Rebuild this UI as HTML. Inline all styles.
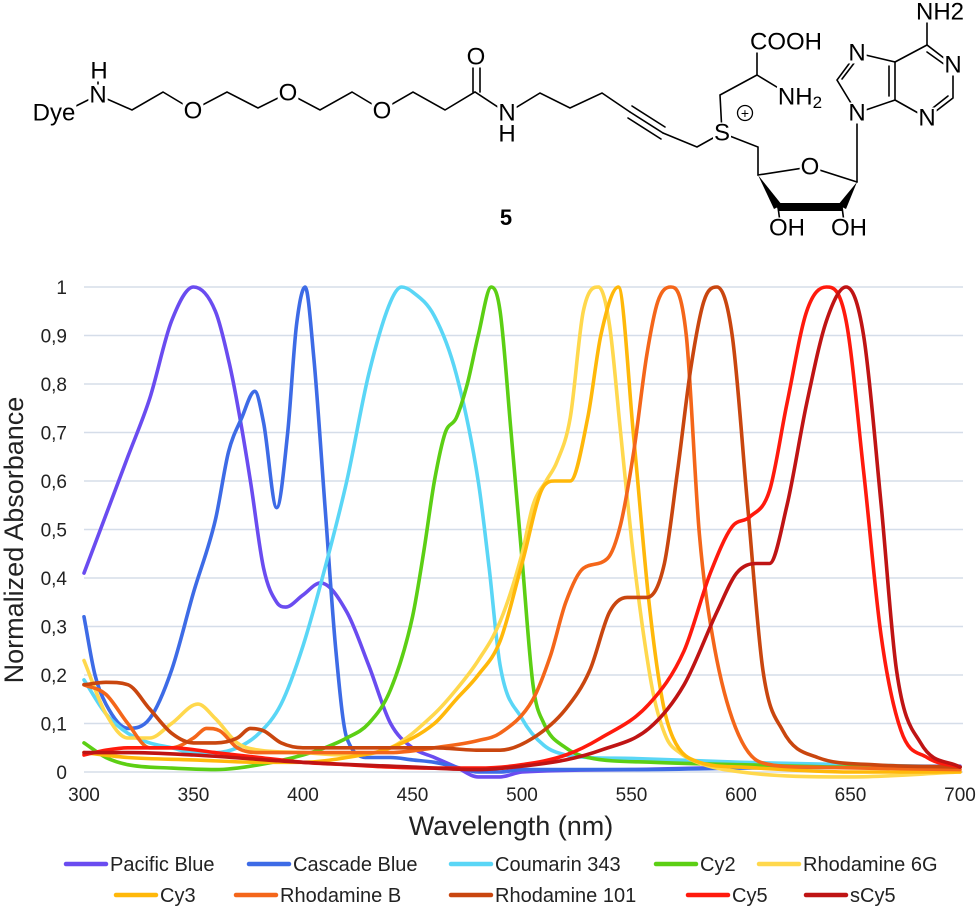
<!DOCTYPE html>
<html><head><meta charset="utf-8"><style>
html,body{margin:0;padding:0;background:#fff;}
svg{display:block;font-family:"Liberation Sans",sans-serif;}
.b{stroke:#000;stroke-width:1.6;fill:none;stroke-linecap:round}
.at{font-size:24px;fill:#000;text-anchor:middle;dominant-baseline:central}
</style></head><body>
<svg id="root" width="980" height="908" viewBox="0 0 980 908">
<g id="structure">
  <polyline class="b" points="76,106 98,95 132,110 163,92 193,110 227,92 258,108 288,93 320,110 352,92 382,110 413,92 445,110 475,92 507,113 540,93 570,108 602,93 630,112"/>
  <line class="b" x1="98" y1="95" x2="98" y2="74"/>
  <line class="b" x1="473" y1="92" x2="473" y2="62"/><line class="b" x1="480" y1="92" x2="480" y2="62"/>
  <line class="b" x1="507" y1="113" x2="507" y2="128"/>
  <line class="b" x1="630" y1="112" x2="663" y2="133"/>
  <line class="b" x1="632" y1="106" x2="665" y2="127"/><line class="b" x1="628" y1="118" x2="661" y2="139"/>
  <polyline class="b" points="663,133 697,147 722,133"/>
  <polyline class="b" points="722,133 720,95 757,75 757,48"/>
  <line class="b" x1="757" y1="75" x2="785" y2="92"/>
  <polyline class="b" points="722,133 758,147 758,175 810,167 857,182"/>
  <polygon points="758,175 774,209 782,205" fill="#000"/>
  <polygon points="776,203 842,203 842,211 778,211" fill="#000"/>
  <polygon points="857,182 838,205 846,209" fill="#000"/>
  <line class="b" x1="778" y1="207" x2="780" y2="222"/><line class="b" x1="842" y1="207" x2="844" y2="222"/>
  <line class="b" x1="857" y1="182" x2="857" y2="113"/>
  <polyline class="b" points="857,113 837,80 857,53 895,62 895,100 857,113"/>
  <line class="b" x1="842" y1="79" x2="858" y2="58"/>
  <line class="b" x1="889" y1="66" x2="889" y2="96"/>
  <polyline class="b" points="895,100 927,118 953,98 953,65 927,45 895,62"/>
  <line class="b" x1="929" y1="111" x2="948" y2="96"/>
  <line class="b" x1="948" y1="67" x2="927" y2="52"/>
  <line class="b" x1="927" y1="45" x2="927" y2="22"/>
  <text class="at" x="54" y="113">Dye</text>
  <text class="at" x="98" y="95">N</text>
  <text class="at" x="99" y="71">H</text>
  <text class="at" x="193" y="111">O</text>
  <text class="at" x="288" y="93">O</text>
  <text class="at" x="382" y="111">O</text>
  <text class="at" x="476" y="57">O</text>
  <text class="at" x="507" y="113">N</text>
  <text class="at" x="507" y="134">H</text>
  <text class="at" x="722" y="133">S</text>
  <circle cx="745" cy="113" r="7.5" fill="#fff" stroke="#000" stroke-width="1.3"/>
  <text x="745" y="118" font-size="14" text-anchor="middle">+</text>
  <text class="at" x="786" y="42">COOH</text>
  <text class="at" x="800" y="97">NH<tspan font-size="17" dy="5">2</tspan></text>
  <text class="at" x="810" y="167">O</text>
  <text class="at" x="787" y="228">OH</text>
  <text class="at" x="849" y="228">OH</text>
  <text class="at" x="857" y="113">N</text>
  <text class="at" x="857" y="53">N</text>
  <text class="at" x="927" y="118">N</text>
  <text class="at" x="953" y="65">N</text>
  <text class="at" x="940" y="12">NH2</text>
  <text x="506" y="225" font-size="22" font-weight="bold" text-anchor="middle">5</text>
</g>
<g id="chart"></g>
</svg>
<script>
const yTicks = [0,0.1,0.2,0.3,0.4,0.5,0.6,0.7,0.8,0.9,1];
const yTickLabels = ["0","0,1","0,2","0,3","0,4","0,5","0,6","0,7","0,8","0,9","1"];
const xTicks = [300,350,400,450,500,550,600,650,700];
const seriesNames = ["Pacific Blue","Cascade Blue","Coumarin 343","Cy2","Rhodamine 6G","Cy3","Rhodamine B","Rhodamine 101","Cy5","sCy5"];
const seriesColors = ["#6a4cf0","#3d6be6","#5ad6f6","#5ccf14","#ffd84d","#ffb80a","#f4661a","#c9460f","#ff1a0d","#bf1414"];
const pbWl = [300,310,320,330,340,350,360,366,370,376,382,388,392,400,408,420,430,440,450,460,470,480,490,500,550,600,650,700];
const pbAbs = [.41,.53,.65,.77,.93,1.0,.95,.85,.76,.6,.42,.35,.34,.365,.39,.33,.22,.1,.05,.03,.01,-.01,-.01,0,.005,.01,.012,.012];
const cbWl = [300,305,310,320,330,340,350,360,366,372,378,382,388,393,397,401,405,410,415,420,430,440,450,460,470,480,490,500,550,600,650,700];
const cbAbs = [.32,.2,.14,.09,.11,.21,.37,.52,.66,.73,.785,.72,.545,.7,.92,1.0,.85,.55,.25,.07,.03,.03,.025,.02,.01,0,0,.005,.005,.008,.01,.01];
const cmWl = [300,310,320,330,340,350,360,370,380,390,400,410,420,430,440,445,450,460,470,480,485,490,500,510,520,530,550,600,650,700];
const cmAbs = [.19,.12,.08,.06,.05,.04,.04,.05,.08,.14,.26,.42,.6,.82,.97,1.0,.99,.94,.82,.6,.42,.22,.11,.055,.035,.03,.028,.02,.015,.01];
const cy2Wl = [300,310,320,340,360,380,400,410,420,430,440,450,455,460,465,470,475,480,486,490,495,500,505,510,520,530,560,600,650,700];
const cy2Abs = [.06,.03,.015,.008,.005,.015,.035,.05,.07,.1,.17,.32,.45,.6,.7,.73,.8,.9,1.0,.95,.7,.44,.18,.1,.05,.03,.02,.015,.01,.01];
const r6Wl = [300,310,320,330,340,352,360,370,380,400,420,440,460,470,480,490,500,505,511,516,522,528,535,540,545,550,555,560,566,572,580,600,650,700];
const r6Abs = [.23,.12,.07,.07,.1,.14,.11,.06,.045,.04,.035,.05,.12,.17,.23,.31,.45,.55,.6,.64,.73,.95,1.0,.92,.7,.48,.3,.16,.07,.04,.02,0,-.01,0];
const c3Wl = [300,320,350,380,400,420,440,460,470,480,490,500,510,515,522,530,536,544,551,558,564,569,581,600,650,700];
const c3Abs = [.04,.03,.025,.02,.02,.03,.05,.1,.15,.2,.27,.43,.59,.6,.6,.73,.9,1.0,.69,.35,.15,.07,.02,.01,0,0];
const rbWl = [300,310,320,330,340,350,356,362,370,380,400,420,440,460,480,490,505,513,520,528,539,545,551,557,562,568,575,581,587,596,609,630,700];
const rbAbs = [.18,.16,.1,.05,.05,.07,.09,.085,.05,.04,.04,.04,.04,.05,.065,.08,.15,.24,.35,.42,.44,.51,.66,.86,.97,1.0,.9,.49,.28,.11,.02,.01,.005];
const r1Wl = [300,310,320,330,340,350,360,370,376,382,390,400,420,440,460,480,490,505,520,531,540,548,557,565,571,577,583,589,596,603,610,619,635,660,700];
const r1Abs = [.18,.185,.18,.13,.08,.06,.06,.07,.09,.085,.06,.05,.05,.05,.05,.045,.045,.07,.13,.21,.33,.36,.36,.43,.62,.83,.97,1.0,.9,.55,.21,.086,.03,.015,.01];
const c5Wl = [300,310,320,340,360,380,400,420,440,460,480,500,520,536,558,574,586,596,604,613,621,630,639,648,656,664,673,685,700];
const c5Abs = [.035,.045,.05,.05,.04,.03,.02,.015,.01,.008,.008,.015,.035,.07,.14,.25,.41,.506,.526,.58,.76,.95,1.0,.93,.62,.28,.086,.03,.01];
const s5Wl = [300,320,350,400,450,480,500,520,536,558,574,589,598,607,613,621,630,639,648,656,664,671,682,700];
const s5Abs = [.04,.04,.035,.02,.01,.005,.012,.025,.045,.09,.18,.33,.41,.43,.43,.55,.76,.93,1.0,.9,.55,.21,.06,.01];
const seriesWl = [pbWl,cbWl,cmWl,cy2Wl,r6Wl,c3Wl,rbWl,r1Wl,c5Wl,s5Wl];
const seriesAbs = [pbAbs,cbAbs,cmAbs,cy2Abs,r6Abs,c3Abs,rbAbs,r1Abs,c5Abs,s5Abs];

const NS = "http://www.w3.org/2000/svg";
// white masks behind atom labels
document.querySelectorAll("#structure text.at").forEach(t=>{
  const bb = t.getBBox();
  const r = document.createElementNS(NS,"rect");
  r.setAttribute("x", bb.x-1); r.setAttribute("y", bb.y+3);
  r.setAttribute("width", bb.width+2); r.setAttribute("height", Math.max(0,bb.height-6));
  r.setAttribute("fill","#fff");
  
  
  t.parentNode.insertBefore(r, t);
});

const chart = document.getElementById("chart");
const X0 = 84, X1 = 960, Y0 = 772, Y1 = 287;
function xs(nm){ return X0 + (nm-300)/(700-300)*(X1-X0); }
function ys(v){ return Y0 - v*(Y0-Y1); }
function mk(tag, attrs, parent){ const e=document.createElementNS(NS,tag); for(const k in attrs) e.setAttribute(k,attrs[k]); (parent||chart).appendChild(e); return e; }

yTicks.forEach((t,i)=>{
  const g = mk("line",{x1:X0,x2:963,y1:ys(t),y2:ys(t),stroke:"#d5dde9","stroke-width":1.5});
  
  
  const tx = mk("text",{x:67,y:ys(t)+7,"font-size":19,"text-anchor":"end",fill:"#222"});
  tx.textContent = yTickLabels[i];
  
  
});
xTicks.forEach(t=>{
  const tx = mk("text",{x:xs(t),y:801,"font-size":19,"text-anchor":"middle",fill:"#222"});
  tx.textContent = String(t);
  
  
});
const yt = mk("text",{x:0,y:0,"font-size":27,"text-anchor":"middle",fill:"#222",transform:"translate(23,540) rotate(-90)"});
yt.textContent = "Normalized Absorbance";


const xt = mk("text",{x:511,y:835,"font-size":27,"text-anchor":"middle",fill:"#222"});
xt.textContent = "Wavelength (nm)";



function monotonePath(xv, yv){
  const n = xv.length, px = xv.map(xs), py = yv.map(ys);
  const d = [], m = new Array(n);
  for(let i=0;i<n-1;i++) d.push((py[i+1]-py[i])/(px[i+1]-px[i]));
  m[0]=d[0]; m[n-1]=d[n-2];
  for(let i=1;i<n-1;i++){ m[i] = (d[i-1]*d[i] <= 0) ? 0 : (d[i-1]+d[i])/2; }
  for(let i=0;i<n-1;i++){
    if(d[i]===0){ m[i]=0; m[i+1]=0; continue; }
    const a=m[i]/d[i], b=m[i+1]/d[i], s=a*a+b*b;
    if(s>9){ const t=3/Math.sqrt(s); m[i]=t*a*d[i]; m[i+1]=t*b*d[i]; }
  }
  let p = "M"+px[0].toFixed(1)+","+py[0].toFixed(1);
  for(let i=0;i<n-1;i++){
    const h=(px[i+1]-px[i])/3;
    p += " C"+(px[i]+h).toFixed(1)+","+(py[i]+m[i]*h).toFixed(1)+" "+(px[i+1]-h).toFixed(1)+","+(py[i+1]-m[i+1]*h).toFixed(1)+" "+px[i+1].toFixed(1)+","+py[i+1].toFixed(1);
  }
  return p;
}
seriesNames.forEach((name,i)=>{
  const p = mk("path",{d:monotonePath(seriesWl[i],seriesAbs[i]),fill:"none",stroke:seriesColors[i],"stroke-width":3.6,"stroke-linejoin":"round","stroke-linecap":"round"});
  
  
});

const legendLineX = [66,249,451,656,759,116,236,451,688,806];
const legendRowY = [864,864,864,864,864,895,895,895,895,895];
seriesNames.forEach((name,i)=>{
  const g = mk("g",{});
  
  
  mk("line",{x1:legendLineX[i],x2:legendLineX[i]+40,y1:legendRowY[i],y2:legendRowY[i],stroke:seriesColors[i],"stroke-width":4.5,"stroke-linecap":"round"},g);
  const t = mk("text",{x:legendLineX[i]+44,y:legendRowY[i]+7,"font-size":20,fill:"#222"},g);
  t.textContent = name;
});
</script>
</body></html>
